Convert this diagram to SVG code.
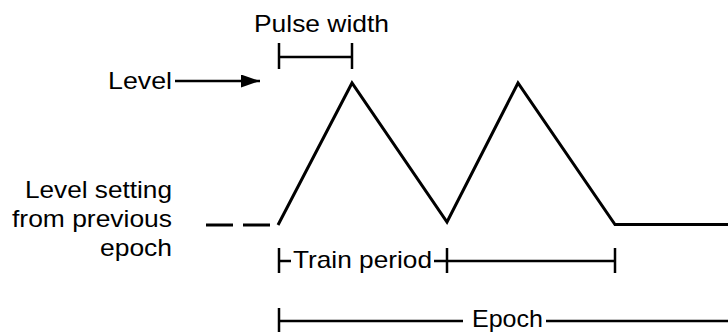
<svg xmlns="http://www.w3.org/2000/svg" width="728" height="332" viewBox="0 0 728 332">
<style>
  text { font-family: "Liberation Sans", Arial, sans-serif; font-size: 24px; fill: #000; }
  .ln { stroke: #000; stroke-width: 2.5; fill: none; }
  .wave { stroke: #000; stroke-width: 3; fill: none; stroke-linejoin: miter; }
</style>
<defs>
  <marker id="arr" viewBox="0 0 19 13" refX="19" refY="6.5" markerWidth="19" markerHeight="13" markerUnits="userSpaceOnUse" orient="auto">
    <path d="M0,0 L19,6.5 L0,13 z" fill="#000"/>
  </marker>
</defs>
<rect width="728" height="332" fill="#fff"/>

<g id="waveform">
  <polyline class="wave" points="278,225 352,83 447,222 518,83 615,224.5 728,224.5"/>
</g>

<g id="previous-level">
  <line class="wave" x1="206" y1="225" x2="233" y2="225"/>
  <line class="wave" x1="243" y1="225" x2="270" y2="225"/>
  <text x="172" y="198" text-anchor="end" textLength="147" lengthAdjust="spacingAndGlyphs">Level setting</text>
  <text x="172" y="227" text-anchor="end" textLength="160" lengthAdjust="spacingAndGlyphs">from previous</text>
  <text x="172" y="256" text-anchor="end" textLength="72" lengthAdjust="spacingAndGlyphs">epoch</text>
</g>

<g id="level">
  <text x="172" y="89" text-anchor="end" textLength="64" lengthAdjust="spacingAndGlyphs">Level</text>
</g>

<g id="pulse-width">
  <text x="254" y="31.5" textLength="135" lengthAdjust="spacingAndGlyphs">Pulse width</text>
  <line class="ln" x1="279" y1="43" x2="279" y2="69"/>
  <line class="ln" x1="352" y1="43" x2="352" y2="69"/>
  <line class="ln" x1="279" y1="57" x2="352" y2="57"/>
</g>

<g id="train-period">
  <line class="ln" x1="279" y1="248" x2="279" y2="273"/>
  <line class="ln" x1="279" y1="261" x2="291" y2="261"/>
  <text x="293" y="268" textLength="139" lengthAdjust="spacingAndGlyphs">Train period</text>
  <line class="ln" x1="434" y1="261" x2="615" y2="261"/>
  <line class="ln" x1="447" y1="248" x2="447" y2="273"/>
  <line class="ln" x1="615" y1="248" x2="615" y2="273"/>
</g>

<g id="epoch">
  <line class="ln" x1="279" y1="308" x2="279" y2="332"/>
  <line class="ln" x1="279" y1="321" x2="463" y2="321"/>
  <text x="472" y="326.5" textLength="71" lengthAdjust="spacingAndGlyphs">Epoch</text>
  <line class="ln" x1="546" y1="321" x2="728" y2="321"/>
</g>

<g id="connectors">
  <line class="ln" x1="175" y1="81" x2="260" y2="81" marker-end="url(#arr)"/>
</g>
</svg>
